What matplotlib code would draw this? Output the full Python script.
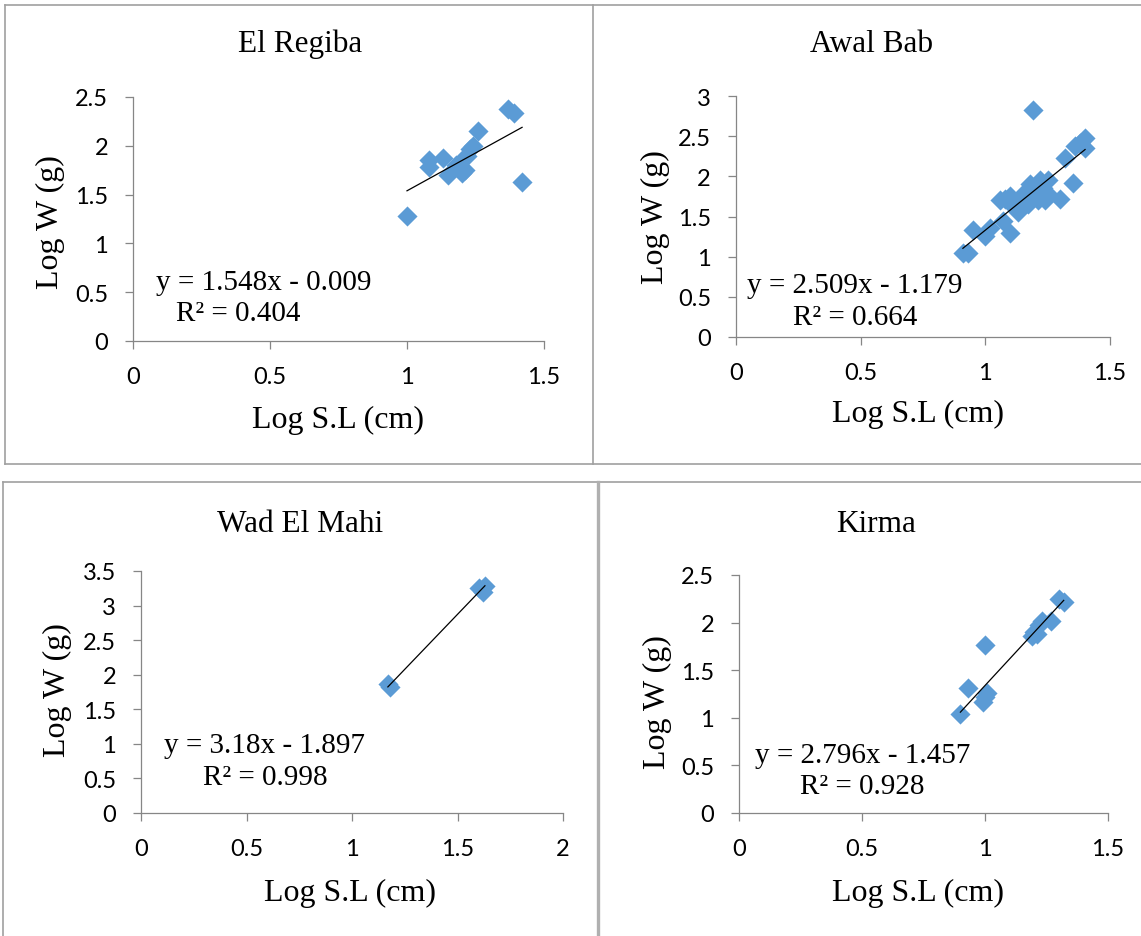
import matplotlib
matplotlib.use("Agg")
import matplotlib.pyplot as plt
import numpy as np
from matplotlib.lines import Line2D

W, H = 1141, 937

# ---- data (log standard length vs log weight) per site
sites = ["El Regiba", "Awal Bab", "Wad El Mahi", "Kirma"]

regiba_x = [1.00, 1.08, 1.08, 1.13, 1.15, 1.18, 1.20, 1.20, 1.21, 1.22, 1.23, 1.24, 1.26, 1.37, 1.39, 1.42]
regiba_y = [1.28, 1.85, 1.78, 1.87, 1.70, 1.80, 1.72, 1.85, 1.75, 1.90, 1.97, 2.00, 2.15, 2.38, 2.34, 1.63]

awal_x = [0.91, 0.93, 0.95, 1.00, 1.02, 1.06, 1.07, 1.08, 1.10, 1.10, 1.12, 1.13, 1.14, 1.15, 1.16,
          1.17, 1.18, 1.19, 1.20, 1.21, 1.22, 1.23, 1.24, 1.25, 1.25, 1.30, 1.32, 1.35, 1.36, 1.38,
          1.40, 1.40]
awal_y = [1.04, 1.04, 1.33, 1.26, 1.36, 1.70, 1.45, 1.72, 1.30, 1.76, 1.60, 1.55, 1.70, 1.75, 1.80,
          1.65, 1.90, 2.83, 1.75, 1.70, 1.95, 1.85, 1.70, 1.78, 1.95, 1.72, 2.23, 1.92, 2.38, 2.42,
          2.48, 2.35]

mahi_x = [1.17, 1.18, 1.60, 1.62, 1.63]
mahi_y = [1.87, 1.82, 3.25, 3.20, 3.29]

kirma_x = [0.90, 0.93, 0.99, 1.00, 1.00, 1.01, 1.19, 1.20, 1.21, 1.22, 1.23, 1.27, 1.30, 1.32]
kirma_y = [1.04, 1.31, 1.17, 1.22, 1.76, 1.26, 1.86, 1.90, 1.88, 1.97, 2.02, 2.02, 2.25, 2.22]

slopes = [1.548, 2.509, 3.18, 2.796]
intercepts = [-0.009, -1.179, -1.897, -1.457]
eq_texts = ["y = 1.548x - 0.009", "y = 2.509x - 1.179", "y = 3.18x - 1.897", "y = 2.796x - 1.457"]
r2_texts = ["R² = 0.404", "R² = 0.664", "R² = 0.998", "R² = 0.928"]

xmax = [1.5, 1.5, 2.0, 1.5]
ymax = [2.5, 3.0, 3.5, 2.5]
xticks = [[0, 0.5, 1, 1.5], [0, 0.5, 1, 1.5], [0, 0.5, 1, 1.5, 2], [0, 0.5, 1, 1.5]]
yticks = [np.arange(0, 2.51, 0.5), np.arange(0, 3.01, 0.5),
          np.arange(0, 3.51, 0.5), np.arange(0, 2.51, 0.5)]

xs = [regiba_x, awal_x, mahi_x, kirma_x]
ys = [regiba_y, awal_y, mahi_y, kirma_y]

# ---- layout in pixels (left, right, bottom, top)
boxes = [(133, 544, 342, 98), (736, 1110, 338, 97), (141, 563, 814, 572), (739, 1108, 814, 576)]
title_pos = [(300, 44), (872, 44), (300, 524), (876, 524)]
xlab_pos = [(338, 420), (918, 414), (350, 893), (918, 893)]
ylab_pos = [(50, 222), (655, 217), (57, 690), (657, 702)]
eq_pos = [(264, 283), (855, 286), (265, 746), (863, 756)]
r2_pos = [(238, 314), (855, 318), (265, 778), (862, 787)]

SERIF = "Liberation Serif"
SANS = "Lato"
AXIS_C = "#868686"
MARK_C = "#5B9BD5"

fig = plt.figure(figsize=(W / 100, H / 100), dpi=100)


def fx(px):
    return px / W


def fy(py):
    return 1 - py / H


for i in range(4):
    l, r, b, t = boxes[i]
    ax = fig.add_axes([fx(l), fy(b), (r - l) / W, (b - t) / H])
    ax.scatter(xs[i], ys[i], marker="D", s=105, color=MARK_C, linewidths=0, zorder=3, clip_on=False)
    x0, x1 = min(xs[i]), max(xs[i])
    lx = np.array([x0, x1])
    ax.plot(lx, slopes[i] * lx + intercepts[i], color="black", lw=0.9, zorder=4)
    ax.set_xlim(0, xmax[i])
    ax.set_ylim(0, ymax[i])
    ax.set_xticks(xticks[i])
    ax.set_yticks(yticks[i])
    ax.set_xticklabels([f"{v:g}" for v in xticks[i]], fontfamily=SANS, fontsize=17)
    ax.set_yticklabels([f"{v:g}" for v in yticks[i]], fontfamily=SANS, fontsize=17)
    for side in ("top", "right"):
        ax.spines[side].set_visible(False)
    for side in ("left", "bottom"):
        ax.spines[side].set_color(AXIS_C)
        ax.spines[side].set_linewidth(0.9)
    ax.tick_params(axis="both", direction="out", length=6, width=0.9, color=AXIS_C)
    ax.tick_params(axis="x", pad=12)
    ax.tick_params(axis="y", pad=12)

    fig.text(fx(title_pos[i][0]), fy(title_pos[i][1]), sites[i], fontfamily=SERIF,
             fontsize=22.5, ha="center", va="center")
    fig.text(fx(xlab_pos[i][0]), fy(xlab_pos[i][1]), "Log S.L (cm)", fontfamily=SERIF,
             fontsize=23, ha="center", va="center")
    fig.text(fx(ylab_pos[i][0]), fy(ylab_pos[i][1]), "Log W (g)", fontfamily=SERIF,
             fontsize=23, ha="center", va="center", rotation=90)
    fig.text(fx(eq_pos[i][0]), fy(eq_pos[i][1]), eq_texts[i], fontfamily=SERIF,
             fontsize=21, ha="center", va="center")
    fig.text(fx(r2_pos[i][0]), fy(r2_pos[i][1]), r2_texts[i], fontfamily=SERIF,
             fontsize=21, ha="center", va="center")

# ---- panel borders
def border(x0, y0, x1, y1, color="#a0a0a0", lw=1.2):
    fig.add_artist(Line2D([fx(x0), fx(x1)], [fy(y0), fy(y1)], color=color, lw=lw,
                          transform=fig.transFigure))


border(5, 6, W, 6)
border(5, 6, 5, 465)
border(593, 6, 593, 465)
border(5, 465, W, 465)
border(3, 483, W, 483)
border(3, 483, 3, H)
border(598, 483, 598, H, color="#b0b0b0", lw=2.4)

fig.savefig("out.png", dpi=100)
